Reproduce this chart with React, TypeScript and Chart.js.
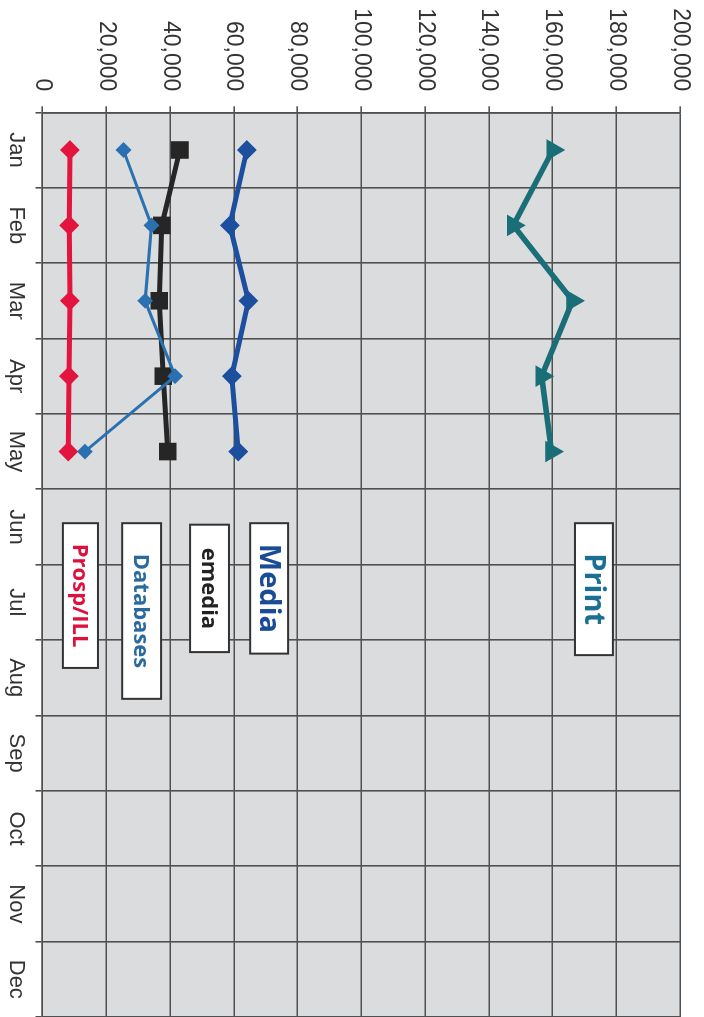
import React, { useEffect, useRef } from 'react';
import { Chart, registerables } from 'chart.js';

Chart.register(...registerables);

// ---- data ----
const months = ['Jan', 'Feb', 'Mar', 'Apr', 'May', 'Jun', 'Jul', 'Aug', 'Sep', 'Oct', 'Nov', 'Dec'];
const printValues = [160100, 147700, 166300, 156600, 159700];
const mediaValues = [64100, 58800, 64600, 59400, 61400];
const emediaValues = [43100, 37400, 36600, 37900, 39300];
const databasesValues = [25400, 34200, 32200, 41600, 13300];
const prospIllValues = [8600, 8400, 8600, 8300, 8100];
const valueMin = 0;
const valueMax = 200000;
const valueStep = 20000;

// ---- series labels drawn inside the plot (anchored in data units) ----
const seriesLabels = [
  { text: 'Print', color: '#1b6f93', size: 29, from: 4.95, to: 6.7, value: 173000, thick: 11900 },
  { text: 'Media', color: '#1a4c96', size: 29, from: 4.95, to: 6.68, value: 71100, thick: 11900 },
  { text: 'emedia', color: '#222222', size: 22, from: 4.97, to: 6.66, value: 52400, thick: 12200 },
  { text: 'Databases', color: '#2a6a9e', size: 22, from: 4.95, to: 7.28, value: 31100, thick: 12200 },
  { text: 'Prosp/ILL', color: '#e0103c', size: 22, from: 4.95, to: 6.87, value: 11900, thick: 11000 },
];

const W = 1017;
const H = 704;
const GRID = '#505050';
const TICK_FONT = '"Liberation Sans", Arial, sans-serif';

const bgPlugin = {
  id: 'plotBg',
  beforeDraw(chart: any) {
    const { ctx, chartArea } = chart;
    ctx.save();
    ctx.fillStyle = '#ffffff';
    ctx.fillRect(0, 0, chart.width, chart.height);
    ctx.fillStyle = '#dadcde';
    ctx.fillRect(chartArea.left, chartArea.top, chartArea.right - chartArea.left, chartArea.bottom - chartArea.top);
    ctx.restore();
  },
};

const labelPlugin = {
  id: 'seriesLabels',
  afterDraw(chart: any) {
    const { ctx } = chart;
    const xs = chart.scales.x;
    const ys = chart.scales.y;
    ctx.save();
    for (const l of seriesLabels) {
      const x1 = xs.getPixelForValue(l.from);
      const x2 = xs.getPixelForValue(l.to);
      const yTop = ys.getPixelForValue(l.value + l.thick / 2);
      const yBot = ys.getPixelForValue(l.value - l.thick / 2);
      ctx.fillStyle = '#ffffff';
      ctx.fillRect(x1, yTop, x2 - x1, yBot - yTop);
      ctx.strokeStyle = '#333333';
      ctx.lineWidth = 2;
      ctx.strokeRect(x1, yTop, x2 - x1, yBot - yTop);
      ctx.fillStyle = l.color;
      ctx.font = `bold ${l.size}px "Open Sans", sans-serif`;
      ctx.textAlign = 'center';
      ctx.textBaseline = 'middle';
      ctx.fillText(l.text, (x1 + x2) / 2, (yTop + yBot) / 2 + 1);
    }
    ctx.restore();
  },
};

function series(label: string, data: number[], color: string, width: number, style: string, radius: number, order: number) {
  return {
    label,
    data,
    borderColor: color,
    backgroundColor: color,
    borderWidth: width,
    pointStyle: style,
    pointRadius: radius,
    pointBorderWidth: 2,
    pointBackgroundColor: color,
    pointBorderColor: color,
    tension: 0,
    order,
  };
}

function zeroPadding(s: any) {
  s.paddingLeft = 0;
  s.paddingRight = 0;
  s.paddingTop = 0;
  s.paddingBottom = 0;
}

export default function App() {
  const ref = useRef<HTMLCanvasElement | null>(null);

  useEffect(() => {
    if (!ref.current) return;
    const chart = new Chart(ref.current, {
      type: 'line',
      data: {
        labels: months,
        datasets: [
          series('Databases', databasesValues, '#2b70b0', 3, 'rectRot', 6.5, 0),
          series('emedia', emediaValues, '#262626', 5, 'rect', 11, 1),
          series('Media', mediaValues, '#1c4f9e', 5, 'rectRot', 8.5, 2),
          series('Print', printValues, '#196e78', 5.5, 'triangle', 10.5, 3),
          series('Prosp/ILL', prospIllValues, '#e3153f', 5, 'rectRot', 8.5, 4),
        ] as any,
      },
      options: {
        animation: false,
        responsive: false,
        devicePixelRatio: 1,
        layout: { autoPadding: false, padding: { top: 24, right: 0, bottom: 0, left: 0 } },
        plugins: { legend: { display: false }, tooltip: { enabled: false } },
        scales: {
          x: {
            type: 'category',
            offset: true,
            grid: { offset: true, color: GRID, lineWidth: 1.6, tickLength: 7, drawTicks: true },
            border: { color: GRID, width: 1.6 },
            ticks: {
              font: { family: TICK_FONT, size: 22 },
              color: '#333333',
              padding: 6,
              maxRotation: 0,
              autoSkip: false,
            },
            afterFit: (s: any) => {
              s.height = 42.5;
              zeroPadding(s);
            },
          },
          y: {
            min: valueMin,
            max: valueMax,
            grid: { color: GRID, lineWidth: 1.6, tickLength: 6 },
            border: { color: GRID, width: 1.6 },
            ticks: {
              stepSize: valueStep,
              font: { family: TICK_FONT, size: 23 },
              color: '#333333',
              padding: 15,
              callback: (v: any) => Number(v).toLocaleString('en-US'),
            },
            afterFit: (s: any) => {
              s.width = 112.3;
              zeroPadding(s);
            },
          },
        },
      } as any,
      plugins: [bgPlugin, labelPlugin],
    });
    return () => chart.destroy();
  }, []);

  return (
    <div style={{ position: 'fixed', left: 0, top: 0, width: 704, height: 1017, overflow: 'hidden', background: '#fff' }}>
      <div
        style={{
          position: 'absolute',
          left: 0,
          top: 0,
          width: W,
          height: H,
          transformOrigin: '0 0',
          transform: `translate(${H}px, 0px) rotate(90deg)`,
        }}
      >
        <canvas ref={ref} width={W} height={H} style={{ display: 'block', width: W, height: H }} />
      </div>
    </div>
  );
}
